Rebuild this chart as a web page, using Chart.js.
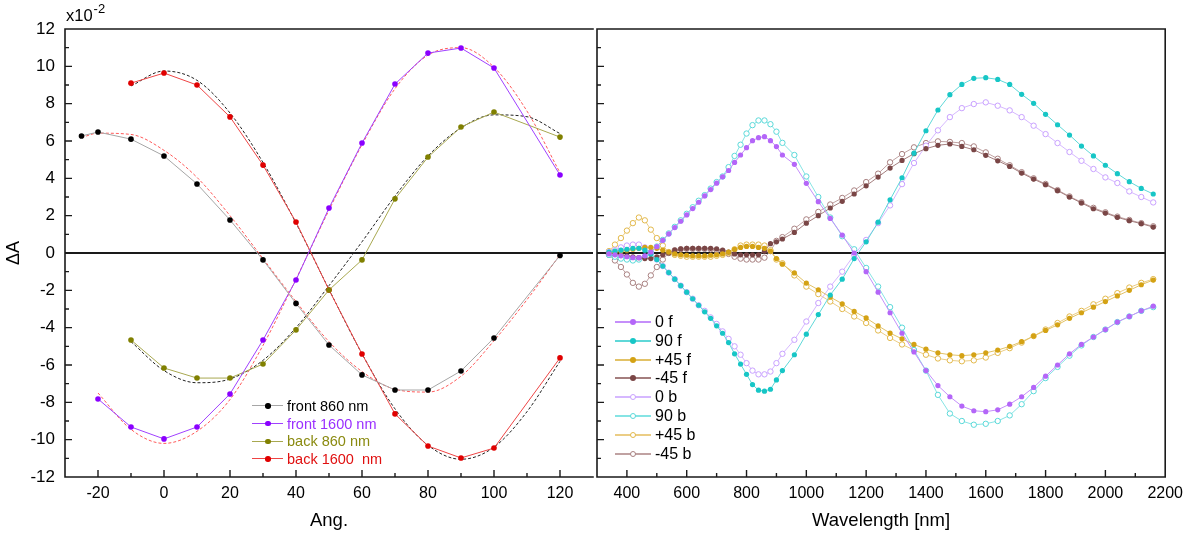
<!DOCTYPE html>
<html><head><meta charset="utf-8">
<script src="https://cdn.jsdelivr.net/npm/chart.js@4.4.1/dist/chart.umd.min.js"></script>
<style>
html,body{margin:0;padding:0;background:#fff}
body{width:1190px;height:535px;position:relative;overflow:hidden;font-family:'Liberation Sans',Arial,Helvetica,sans-serif;color:#000}
canvas{position:absolute;top:0}
#c1{left:0}
#c2{left:557px}
.mult{position:absolute;left:66px;top:7px;font-size:16.5px;line-height:1;white-space:nowrap}
.mult .sup{font-size:13px;position:relative;top:-8px;margin-left:1px}
.row{position:absolute;height:18px;white-space:nowrap}
.ln{position:absolute;height:0}
.dt{position:absolute;border-radius:50%;box-sizing:border-box}
.tx{position:absolute;line-height:18px;top:0;white-space:pre}
</style></head><body>
<canvas id="c1" width="600" height="535"></canvas>
<canvas id="c2" width="633" height="535"></canvas>
<div class="mult">x10<span class="sup">-2</span></div>
<div id="legs"></div>
<script>
// ---------- LEFT PANEL DATA (ΔA in units of 1e-2) ----------
const angFront860 = [-25,-20,-10,0,10,20,30,40,50,60,70,80,90,100,120];
const front860    = [6.27,6.48,6.1,5.2,3.7,1.77,-0.37,-2.7,-4.93,-6.53,-7.34,-7.34,-6.32,-4.55,-0.13];
const angFront1600 = [-20,-10,0,10,20,30,40,50,60,70,80,90,100,120];
const front1600    = [-7.82,-9.32,-9.96,-9.32,-7.55,-4.66,-1.45,2.41,5.89,9.05,10.71,10.98,9.91,4.18];
const angBack = [-10,0,10,20,30,40,50,60,70,80,90,100,120];
const back860  = [-4.66,-6.16,-6.7,-6.7,-5.95,-4.12,-1.98,-0.37,2.9,5.14,6.75,7.55,6.21];
const back1600 = [9.1,9.64,9.0,7.29,4.71,1.66,-1.98,-5.41,-8.62,-10.34,-10.98,-10.45,-5.62];
// fitted curves (dashed)
const fitAngF860 = [-25,-20,-10,0,10,20,30,40,50,60,70,80,90,100,110,120];
const fitF860    = [6.18,6.42,6.35,5.5,4.05,2.0,-0.3,-2.6,-4.75,-6.35,-7.3,-7.45,-6.6,-4.7,-2.5,-0.1];
const fitAngF1600 = [-20,-10,0,10,20,30,40,50,60,70,80,90,100,110,120];
const fitF1600    = [-7.5,-9.45,-10.2,-9.55,-7.85,-4.95,-1.4,2.3,5.8,8.8,10.6,11.0,9.95,7.6,4.3];
const fitAngBack = [-10,0,10,20,30,40,50,60,70,80,90,100,110,120];
const fitB860    = [-4.75,-6.3,-6.95,-6.75,-5.75,-4.0,-1.75,0.6,3.05,5.2,6.7,7.4,7.3,6.4];
const fitB1600   = [8.95,9.75,9.25,7.5,4.85,1.6,-1.95,-5.4,-8.35,-10.3,-11.05,-10.4,-8.5,-5.8];
const leftLabels = ['front 860 nm','front 1600 nm','back 860 nm','back 1600  nm'];

// ---------- RIGHT PANEL DATA ----------
const wavelength = [340,360,380,400,420,440,460,480,500,520,540,560,580,600,620,640,660,680,700,720,740,760,780,800,820,840,860,880,900,920,
  960,1000,1040,1080,1120,1160,1200,1240,1280,1320,1360,1400,1440,1480,1520,1560,1600,1640,1680,1720,1760,1800,1840,1880,1920,1960,2000,2040,2080,2120,2160];
const s0f = [-0.05,-0.1,-0.15,-0.2,-0.25,-0.25,-0.15, 0.05,0.34,0.68,1.02,1.36,1.7,2.04,2.38,2.72,3.06,3.4,3.74,4.08, 4.42,4.85,5.25,5.64,6.02,6.18,6.23,6.02,5.7,5.25,
  4.75,3.73,2.75,1.85,0.96,0.0,-1.0,-2.1,-3.2,-4.3,-5.3,-6.3,-7.1,-7.7,-8.2,-8.45,-8.5,-8.4,-8.1,-7.7,-7.2,-6.6,-6.0,-5.4,-4.9,-4.5,-4.1,-3.7,-3.4,-3.1,-2.85];
const s90f = [0.05,0.1,0.15,0.2,0.25,0.25,0.15, -0.05,-0.35,-0.7,-1.05,-1.4,-1.75,-2.1,-2.45,-2.8,-3.15,-3.5,-3.9,-4.3, -4.8,-5.4,-5.95,-6.5,-7.05,-7.35,-7.4,-7.3,-6.8,-6.3,
  -5.45,-4.35,-3.3,-2.25,-1.4,-0.3,0.6,1.65,2.85,4.03,5.35,6.55,7.66,8.48,9.03,9.36,9.39,9.3,9.03,8.5,8.02,7.43,6.87,6.32,5.73,5.2,4.7,4.25,3.82,3.46,3.16];
const sp45f = [0.0,0.05,0.1,0.15,0.2,0.25,0.3, 0.3,0.25,0.15,0.05,-0.05,-0.1,-0.12,-0.15,-0.15,-0.15,-0.12,-0.1,-0.05, 0.05,0.2,0.3,0.35,0.35,0.3,0.25,0.1,-0.3,-0.6,
  -1.07,-1.61,-1.97,-2.36,-2.72,-3.13,-3.48,-3.9,-4.29,-4.6,-4.9,-5.15,-5.35,-5.45,-5.5,-5.45,-5.35,-5.2,-5.0,-4.75,-4.45,-4.15,-3.85,-3.5,-3.2,-2.9,-2.6,-2.3,-2.0,-1.7,-1.45];
const sm45f = [0.0,-0.05,-0.1,-0.15,-0.2,-0.25,-0.3, -0.3,-0.2,-0.1,0.0,0.15,0.22,0.25,0.25,0.25,0.25,0.25,0.22,0.15, 0.05,-0.05,-0.1,-0.1,-0.1,-0.1,0.1,0.5,0.6,0.75,
  1.1,1.6,2.0,2.41,2.77,3.16,3.6,4.07,4.55,4.96,5.32,5.59,5.77,5.84,5.71,5.53,5.23,4.94,4.64,4.28,3.96,3.66,3.34,3.0,2.68,2.37,2.14,1.91,1.73,1.57,1.39];
const s0b = [0.05,0.15,0.3,0.4,0.45,0.45,0.3, -0.05,-0.35,-0.7,-1.05,-1.4,-1.75,-2.1,-2.45,-2.8,-3.1,-3.45,-3.8,-4.2, -4.6,-5.0,-5.45,-5.9,-6.3,-6.5,-6.5,-6.35,-5.9,-5.4,
  -4.65,-3.67,-2.68,-1.8,-1.0,-0.1,0.7,1.6,2.55,3.69,4.82,5.75,6.57,7.28,7.76,7.98,8.07,7.89,7.64,7.28,6.82,6.37,5.89,5.41,4.94,4.5,4.05,3.75,3.3,3.0,2.71];
const s90b = [-0.1,-0.2,-0.3,-0.35,-0.4,-0.35,-0.2, 0.05,0.35,0.7,1.05,1.4,1.75,2.1,2.45,2.8,3.1,3.45,3.8,4.1, 4.6,5.2,5.8,6.4,6.85,7.1,7.1,6.9,6.5,5.9,
  5.25,4.1,3.0,1.9,0.9,0.2,-0.8,-1.8,-2.9,-4.0,-5.2,-6.3,-7.6,-8.6,-9.0,-9.2,-9.15,-9.0,-8.7,-8.1,-7.4,-6.7,-6.1,-5.5,-4.95,-4.5,-4.1,-3.7,-3.4,-3.1,-2.9];
const sp45b = [0.1,0.45,0.8,1.2,1.6,1.9,1.75, 1.25,0.8,0.4,0.05,-0.1,-0.15,-0.2,-0.2,-0.2,-0.2,-0.2,-0.15,-0.1, 0.0,0.2,0.4,0.45,0.45,0.45,0.4,0.15,-0.35,-0.55,
  -1.2,-1.8,-2.2,-2.6,-3.0,-3.4,-3.75,-4.15,-4.55,-4.9,-5.2,-5.45,-5.65,-5.75,-5.8,-5.75,-5.6,-5.35,-5.1,-4.8,-4.45,-4.1,-3.75,-3.4,-3.1,-2.75,-2.45,-2.15,-1.85,-1.6,-1.4];
const sm45b = [-0.1,-0.4,-0.75,-1.15,-1.6,-1.8,-1.65, -1.2,-0.75,-0.35,0.0,0.15,0.2,0.22,0.22,0.22,0.22,0.2,0.15,0.1, -0.05,-0.2,-0.3,-0.35,-0.35,-0.35,-0.25,0.1,0.65,0.85,
  1.3,1.8,2.2,2.6,2.95,3.35,3.8,4.25,4.86,5.3,5.66,5.89,5.98,5.95,5.89,5.71,5.39,5.05,4.7,4.33,4.0,3.7,3.37,3.03,2.72,2.42,2.18,1.95,1.77,1.6,1.43];
const rightLabels = ['0 f','90 f','+45 f','-45 f','0 b','90 b','+45 b','-45 b'];

// ---------- helpers ----------
const FONT = "'Liberation Sans', Arial, Helvetica, sans-serif";
const pts = (xs, ys) => xs.map((x, i) => ({x, y: ys[i]}));

const framePlugin = {
  id: 'frame',
  beforeDatasetsDraw(chart) {
    const {ctx, chartArea: a, scales: {y}} = chart;
    const y0 = y.getPixelForValue(0);
    ctx.save();
    ctx.strokeStyle = '#1a1a1a'; ctx.lineWidth = 2;
    ctx.beginPath(); ctx.moveTo(a.left, y0); ctx.lineTo(a.right, y0); ctx.stroke();
    ctx.restore();
  },
  afterDraw(chart, args, o) {
    const {ctx, chartArea: a, scales: {x, y}} = chart;
    ctx.save();
    ctx.strokeStyle = '#1a1a1a'; ctx.lineWidth = 1.6; ctx.lineCap = 'square';
    ctx.beginPath();
    if (o.sides.includes('left'))   { ctx.moveTo(a.left, a.top); ctx.lineTo(a.left, a.bottom); }
    if (o.sides.includes('right'))  { ctx.moveTo(a.right, a.top); ctx.lineTo(a.right, a.bottom); }
    if (o.sides.includes('top'))    { ctx.moveTo(a.left, a.top); ctx.lineTo(a.right, a.top); }
    if (o.sides.includes('bottom')) { ctx.moveTo(a.left, a.bottom); ctx.lineTo(a.right, a.bottom); }
    ctx.stroke();
    ctx.lineWidth = 1.4; ctx.lineCap = 'butt';
    ctx.beginPath();
    x.ticks.forEach(t => {
      const px = x.getPixelForValue(t.value);
      if (px < a.left + 1 || px > a.right - 1) return;
      const len = (Math.round(t.value) % o.xMajor === 0) ? 7 : 4;
      ctx.moveTo(px, a.bottom); ctx.lineTo(px, a.bottom - len);
    });
    y.ticks.forEach(t => {
      const py = y.getPixelForValue(t.value);
      if (py < a.top + 1 || py > a.bottom - 1) return;
      const len = (Math.round(t.value) % 2 === 0) ? 7 : 4;
      ctx.moveTo(a.left, py); ctx.lineTo(a.left + len, py);
    });
    ctx.stroke();
    ctx.restore();
  }
};

// ---------- LEFT CHART ----------
const leftSeries = [
  {label: leftLabels[0], xs: angFront860, ys: front860, pt: '#000000', ln: '#a6a6a6', txt: '#000000'},
  {label: leftLabels[1], xs: angFront1600, ys: front1600, pt: '#8a00ff', ln: '#a040ff', txt: '#9a30ff'},
  {label: leftLabels[2], xs: angBack, ys: back860, pt: '#808000', ln: '#a8a850', txt: '#8a8a10'},
  {label: leftLabels[3], xs: angBack, ys: back1600, pt: '#e00000', ln: '#ee4444', txt: '#e01010'}
];
const fitSets = [
  {xs: fitAngF860, ys: fitF860, c: '#ff5a5a'},
  {xs: fitAngF1600, ys: fitF1600, c: '#ff5a5a'},
  {xs: fitAngBack, ys: fitB860, c: '#222222'},
  {xs: fitAngBack, ys: fitB1600, c: '#222222'}
];
const leftDatasets = [];
leftSeries.forEach(s => leftDatasets.push({
  label: s.label, data: pts(s.xs, s.ys), borderColor: s.ln, borderWidth: 1,
  pointRadius: 2.8, pointBackgroundColor: s.pt, pointBorderColor: s.pt, pointBorderWidth: 0, tension: 0
}));
fitSets.forEach(f => leftDatasets.push({
  data: pts(f.xs, f.ys), borderColor: f.c, borderWidth: 1, borderDash: [3, 2],
  pointRadius: 0, tension: 0.4, cubicInterpolationMode: 'monotone'
}));

new Chart(document.getElementById('c1'), {
  type: 'line',
  data: {datasets: leftDatasets},
  options: {
    responsive: false, animation: false,
    layout: {padding: {top: 29, right: 3, left: 0, bottom: 0}},
    plugins: {legend: {display: false}, tooltip: {enabled: false}, frame: {sides: ['left', 'top', 'bottom'], xMajor: 20}},
    scales: {
      x: {type: 'linear', min: -30, max: 130, afterFit(s) { s.height = 58; },
        grid: {display: false, drawTicks: false}, border: {display: false},
        ticks: {stepSize: 10, autoSkip: false, maxRotation: 0, padding: 7, color: '#000', font: {family: FONT, size: 16},
          callback: v => (Math.round(v) % 20 === 0 ? String(Math.round(v)) : '')},
        title: {display: true, text: 'Ang.', color: '#000', font: {family: FONT, size: 18.5}, padding: {top: 0, bottom: 3}}},
      y: {type: 'linear', min: -12, max: 12, afterFit(s) { s.width = 65; },
        grid: {display: false, drawTicks: false}, border: {display: false},
        ticks: {stepSize: 1, autoSkip: false, padding: 10, color: '#000', font: {family: FONT, size: 17},
          callback: v => (Math.round(v) % 2 === 0 ? String(Math.round(v)) : '')},
        title: {display: true, text: 'ΔA', color: '#000', font: {family: FONT, size: 18}, padding: {top: 3, bottom: 0}}}
    }
  },
  plugins: [framePlugin]
});

// ---------- RIGHT CHART ----------
const rightSeries = [
  {ys: s0f,   c: '#b466f8', ln: '#c58ffa', filled: true},
  {ys: s90f,  c: '#17c6c6', ln: '#5fd8d8', filled: true},
  {ys: sp45f, c: '#d4a214', ln: '#e2c266', filled: true},
  {ys: sm45f, c: '#7a4646', ln: '#a47e7e', filled: true},
  {ys: s0b,   c: '#c8a0ff', ln: '#d6b8ff', filled: false},
  {ys: s90b,  c: '#5ad9d9', ln: '#86e4e4', filled: false},
  {ys: sp45b, c: '#e2b84a', ln: '#ebcd85', filled: false},
  {ys: sm45b, c: '#a88080', ln: '#c0a2a2', filled: false}
];
const rightDatasets = rightSeries.map((s, i) => ({
  label: rightLabels[i], data: pts(wavelength, s.ys), borderColor: s.ln, borderWidth: 1,
  pointRadius: s.filled ? 2.6 : 2.7, pointBackgroundColor: s.filled ? s.c : '#ffffff',
  pointBorderColor: s.c, pointBorderWidth: s.filled ? 0 : 1, tension: 0
}));

new Chart(document.getElementById('c2'), {
  type: 'line',
  data: {datasets: rightDatasets},
  options: {
    responsive: false, animation: false,
    layout: {padding: {top: 29, right: 24, left: 40, bottom: 0}},
    plugins: {legend: {display: false}, tooltip: {enabled: false}, frame: {sides: ['left', 'top', 'bottom', 'right'], xMajor: 200}},
    scales: {
      x: {type: 'linear', min: 300, max: 2200, afterFit(s) { s.height = 58; },
        grid: {display: false, drawTicks: false}, border: {display: false},
        ticks: {stepSize: 100, autoSkip: false, maxRotation: 0, padding: 7, color: '#000', font: {family: FONT, size: 16},
          callback: v => (Math.round(v) % 200 === 0 ? String(Math.round(v)) : '')},
        title: {display: true, text: 'Wavelength [nm]', color: '#000', font: {family: FONT, size: 18.5}, padding: {top: 0, bottom: 3}}},
      y: {type: 'linear', min: -12, max: 12, afterFit(s) { s.width = 0; },
        grid: {display: false, drawTicks: false}, border: {display: false},
        ticks: {display: false, stepSize: 1, autoSkip: false}}
    }
  },
  plugins: [framePlugin]
});

// ---------- LEGENDS (HTML text) ----------
const legs = document.getElementById('legs');
function row(yc, x0, x1, xm, xt, lineColor, lineW, dotFill, dotStroke, dotSize, text, textColor, fontSize) {
  const r = document.createElement('div');
  r.className = 'row'; r.style.left = '0px'; r.style.top = (yc - 9) + 'px'; r.style.width = '1190px';
  const l = document.createElement('div'); l.className = 'ln';
  l.style.left = x0 + 'px'; l.style.width = (x1 - x0) + 'px'; l.style.top = (9 - lineW / 2) + 'px';
  l.style.borderTop = lineW + 'px solid ' + lineColor; r.appendChild(l);
  const d = document.createElement('div'); d.className = 'dt';
  d.style.width = dotSize + 'px'; d.style.height = dotSize + 'px';
  d.style.left = (xm - dotSize / 2) + 'px'; d.style.top = (9 - dotSize / 2) + 'px';
  d.style.background = dotFill; d.style.border = dotStroke ? ('1px solid ' + dotStroke) : 'none'; r.appendChild(d);
  const t = document.createElement('div'); t.className = 'tx'; t.textContent = text;
  t.style.left = xt + 'px'; t.style.color = textColor; t.style.fontSize = fontSize + 'px'; r.appendChild(t);
  legs.appendChild(r);
}
leftSeries.forEach((s, i) => row(406 + i * 17.7, 252, 283, 268, 287, s.ln, 1.2, s.pt, null, 5.5, s.label, s.txt, 14.5));
rightSeries.forEach((s, i) => row(321.7 + i * 18.9, 615, 651, 633, 655, s.ln, 2, s.filled ? s.c : '#fff', s.filled ? null : s.c, 6, rightLabels[i], '#000', 16));
</script>
</body></html>
